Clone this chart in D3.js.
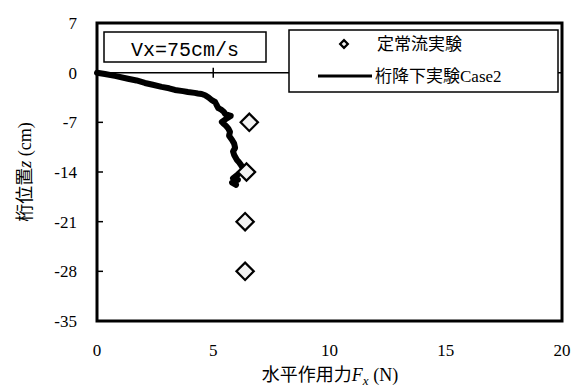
<!DOCTYPE html>
<html><head><meta charset="utf-8">
<script src="https://cdn.jsdelivr.net/npm/d3@7"></script>
<style>
body{margin:0;background:#fff;}
svg{display:block;}
.serif{font-family:"Liberation Serif","Times New Roman",serif;}
</style>
</head><body>
<svg id="c" width="575" height="387"></svg>
<script>
// Data
const xTicks = [0, 5, 10, 15, 20];
const yTicks = [7, 0, -7, -14, -21, -28, -35];
const steadyF = [6.55, 6.43, 6.37, 6.37];
const steadyZ = [-7, -14, -21, -28];
const dropF = [0, 0.34, 0.77, 1.33, 1.7, 2.06, 2.4, 2.78, 3.1, 3.35, 3.7, 3.91, 4.2, 4.34, 4.5, 4.65, 4.8, 4.93, 5.0, 5.08, 5.15, 5.22, 5.36, 5.45, 5.51, 5.75, 5.6, 5.37, 5.45, 5.55, 5.65, 5.72, 5.68, 5.81, 5.9, 5.94, 5.85, 5.9, 6.02, 6.1, 6.19, 6.32, 6.15, 6.0, 5.85, 6.06, 5.81, 5.98];
const dropZ = [0, -0.18, -0.46, -0.85, -1.1, -1.45, -1.7, -2.0, -2.2, -2.44, -2.6, -2.72, -2.85, -2.93, -3.0, -3.18, -3.5, -3.85, -4.0, -4.13, -4.6, -5.01, -5.25, -5.5, -5.82, -6.1, -6.4, -6.94, -7.2, -7.5, -7.9, -8.35, -8.9, -9.5, -10.0, -10.6, -11.1, -11.6, -12.3, -12.6, -13.0, -13.7, -14.1, -14.5, -14.9, -15.1, -15.5, -15.8];
const legendLabels = ["定常流実験", "桁降下実験Case2"];
const annotation = "Vx=75cm/s";

const svg = d3.select("#c");
const L = 97, R = 562, T = 23, B = 321;
const x = d3.scaleLinear().domain([0, 20]).range([L, R]);
const y = d3.scaleLinear().domain([-35, 7]).range([B, T]);

// x axis line at z=0 with cross tick
const g = svg.append("g");
g.append("line").attr("x1", L).attr("x2", R).attr("y1", y(0)).attr("y2", y(0))
  .attr("stroke", "#000").attr("stroke-width", 1.5);
xTicks.slice(1, -1).forEach(t => {
  g.append("line").attr("x1", x(t)).attr("x2", x(t)).attr("y1", y(0) - 5).attr("y2", y(0) + 5)
    .attr("stroke", "#000").attr("stroke-width", 1.5);
});
// y ticks inward
yTicks.slice(1, -1).forEach(t => {
  g.append("line").attr("x1", L).attr("x2", L + 6).attr("y1", y(t)).attr("y2", y(t))
    .attr("stroke", "#000").attr("stroke-width", 1.5);
});

// tick labels
svg.append("g").selectAll("text").data(yTicks).join("text")
  .attr("class", "serif").attr("x", 77).attr("y", d => y(d)).attr("dy", "0.35em")
  .attr("text-anchor", "end").attr("font-size", 17).text(d => d);
svg.append("g").selectAll("text").data(xTicks).join("text")
  .attr("class", "serif").attr("x", d => x(d)).attr("y", 356)
  .attr("text-anchor", "middle").attr("font-size", 17).text(d => d);

// drop line
const line = d3.line().x((d, i) => x(dropF[i])).y((d, i) => y(dropZ[i])).curve(d3.curveLinear);
svg.append("path").datum(dropF).attr("d", line).attr("fill", "none")
  .attr("stroke", "#000").attr("stroke-width", 6).attr("stroke-linejoin", "round").attr("stroke-linecap", "round");

// diamonds
const diamond = d3.symbol().type(d3.symbolSquare).size(150);
svg.append("g").selectAll("path").data(steadyF).join("path")
  .attr("d", diamond)
  .attr("transform", (d, i) => `translate(${x(d)},${y(steadyZ[i])}) rotate(45)`)
  .attr("fill", "#f2f2f2").attr("stroke", "#000").attr("stroke-width", 2.2);

// annotation box
svg.append("rect").attr("x", 104).attr("y", 32).attr("width", 162).attr("height", 30)
  .attr("fill", "#fff").attr("stroke", "#000").attr("stroke-width", 1.5);
svg.append("text").attr("x", 185).attr("y", 56).attr("text-anchor", "middle")
  .attr("font-family", "Liberation Mono, DejaVu Sans Mono, monospace").attr("font-size", 20)
  .text(annotation);

// legend
svg.append("rect").attr("x", 289).attr("y", 30).attr("width", 269).attr("height", 62)
  .attr("fill", "#fff").attr("stroke", "#000").attr("stroke-width", 1.5);
svg.append("path").attr("d", d3.symbol().type(d3.symbolSquare).size(30)())
  .attr("transform", "translate(344,44) rotate(45)")
  .attr("fill", "#f2f2f2").attr("stroke", "#000").attr("stroke-width", 2.2);
svg.append("line").attr("x1", 318).attr("x2", 372).attr("y1", 76).attr("y2", 76)
  .attr("stroke", "#000").attr("stroke-width", 3);
svg.append("text").attr("x", 377).attr("y", 44).attr("dy", "0.35em")
  .attr("font-family", "Liberation Serif, Noto Sans CJK JP, serif").attr("font-size", 17)
  .text(legendLabels[0]);
svg.append("text").attr("x", 375).attr("y", 76).attr("dy", "0.35em")
  .attr("font-family", "Liberation Serif, Noto Sans CJK JP, serif").attr("font-size", 17)
  .text(legendLabels[1]);

// frame
svg.append("rect").attr("x", L).attr("y", T).attr("width", R - L).attr("height", B - T)
  .attr("fill", "none").attr("stroke", "#000").attr("stroke-width", 3);

// axis titles
const xt = svg.append("text").attr("x", 330).attr("y", 381).attr("text-anchor", "middle")
  .attr("font-family", "Liberation Serif, Noto Sans CJK JP, serif").attr("font-size", 18);
xt.append("tspan").text("水平作用力");
xt.append("tspan").attr("font-style", "italic").text("F");
xt.append("tspan").attr("font-style", "italic").attr("font-size", 13).attr("dy", 4).text("x");
xt.append("tspan").attr("dy", -4).text(" (N)");

const yt = svg.append("text").attr("transform", "translate(31,172) rotate(-90)").attr("text-anchor", "middle")
  .attr("font-family", "Liberation Serif, Noto Sans CJK JP, serif").attr("font-size", 18);
yt.append("tspan").text("桁位置");
yt.append("tspan").attr("font-style", "italic").text("z");
yt.append("tspan").text(" (cm)");
</script>
</body></html>
